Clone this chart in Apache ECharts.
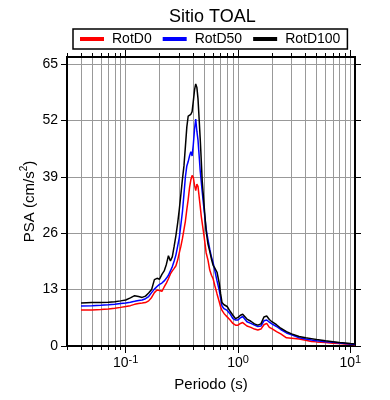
<!DOCTYPE html>
<html>
<head>
<meta charset="utf-8">
<script src="https://cdn.jsdelivr.net/npm/echarts@6/dist/echarts.min.js"></script>
<style>html,body{margin:0;padding:0;background:#fff}#chart{width:390px;height:400px}</style>
</head>
<body>
<div id="chart"></div>
<script>
// periods (s)
var periods = [0.04,0.05,0.06,0.07,0.08,0.09,
  0.10,0.11,0.12,0.13,0.14,0.15,0.16,0.17,0.18,0.19,
  0.20,0.21,0.22,0.23,0.24,0.25,0.26,0.27,0.28,0.29,
  0.30,0.31,0.32,0.33,0.34,0.35,0.36,0.37,0.38,0.39,
  0.40,0.41,0.42,0.43,0.44,0.45,0.46,0.47,0.48,
  0.50,0.52,0.54,0.56,0.58,0.60,0.62,
  0.65,0.68,0.70,0.72,0.75,0.78,0.80,
  0.85,0.90,0.95,1.0,1.05,1.1,
  1.2,1.3,1.4,1.5,1.6,1.7,1.8,1.9,2.0,
  2.2,2.4,2.7,3.0,3.5,
  4.0,4.5,5.0,
  6,7,8,9,10,11];

var rotD0 = [8.3,8.3,8.4,8.5,8.7,8.9,
  9.1,9.3,9.6,9.8,9.9,10.0,10.4,11.2,12.3,12.9,
  12.8,12.6,13.6,14.5,15.5,16.6,17.3,17.9,18.5,19.8,
  21.5,23.0,24.8,26.8,28.8,31.5,33.8,36.5,38.3,39.3,
  38.8,37.0,35.8,37.3,36.8,34.5,32.3,30.0,28.3,
  25.0,21.5,19.8,17.5,16.3,15.5,14.0,
  12.0,10.2,9.0,8.2,7.5,7.0,6.8,
  6.0,5.2,4.8,4.8,5.2,5.4,
  4.6,4.3,3.9,3.7,3.9,4.9,5.2,4.3,4.0,
  3.3,2.8,1.9,1.8,1.6,
  1.3,1.05,0.95,
  0.8,0.65,0.55,0.45,0.38,0.3];

var rotD50 = [9.2,9.3,9.4,9.5,9.6,9.8,
  9.9,10.1,10.3,10.5,10.6,10.9,11.4,12.3,13.1,13.7,
  14.2,14.5,15.0,15.6,16.3,17.3,18.3,19.6,21.0,23.0,
  25.0,28.0,31.0,35.0,39.0,41.5,42.5,43.8,44.8,43.8,
  46.5,50.0,52.3,49.5,47.5,44.0,40.5,38.0,35.5,
  31.0,27.0,24.5,22.3,20.5,19.2,17.5,
  15.0,12.8,11.0,9.2,8.6,8.5,8.2,
  7.4,6.3,6.0,6.0,6.5,6.8,
  5.6,5.2,4.8,4.5,4.6,5.8,6.0,5.5,5.1,
  4.5,3.8,3.0,2.6,1.9,
  1.6,1.4,1.2,
  1.0,0.85,0.7,0.55,0.45,0.35];

var rotD100 = [9.9,10.0,10.0,10.1,10.2,10.4,
  10.6,11.1,11.6,11.4,11.2,11.5,12.2,13.0,15.3,15.6,
  15.4,16.5,17.3,18.8,20.8,19.6,20.6,23.0,25.5,28.3,
  31.5,35.0,38.5,41.5,46.0,50.5,53.0,53.2,53.4,54.0,
  56.5,59.0,60.4,59.6,57.0,52.5,48.0,43.0,38.0,
  32.0,26.5,23.5,21.8,20.0,18.6,18.0,
  17.0,14.5,12.0,10.0,9.5,9.6,9.1,
  8.0,7.1,6.3,6.6,7.1,7.3,
  6.2,5.7,5.1,4.8,5.1,6.7,6.9,6.1,5.6,
  4.9,4.1,3.3,2.8,2.2,
  1.9,1.7,1.5,
  1.2,1.0,0.8,0.7,0.55,0.45];

var minorTicks = [0.03,0.04,0.05,0.06,0.07,0.08,0.09,
  0.1,0.2,0.3,0.4,0.5,0.6,0.7,0.8,0.9,
  1,2,3,4,5,6,7,8,9,10];
var decadeTicks = [0.1, 1, 10];
var psaTicks = [0, 13, 26, 39, 52, 65];

var font = 'Liberation Sans, Arial, sans-serif';
var gridGray = '#999';

function pairs(vals) {
  return periods.map(function (p, i) { return [p, vals[i]]; });
}

function decadeLabel(v) {
  var e = Math.round(Math.log10(v));
  return '{b|10}{s|' + e + '}';
}

function xAxisDef(pos, values, len, withLabels, withSplit) {
  return {
    type: 'log', logBase: 10, min: 0.03, max: 11, position: pos, gridIndex: 0,
    axisLine: { show: true, onZero: false, lineStyle: { color: '#000', width: 2 } },
    axisTick: { show: true, customValues: values, length: len, lineStyle: { color: '#000', width: 1 } },
    axisLabel: {
      show: withLabels, customValues: decadeTicks, margin: 8,
      formatter: decadeLabel,
      rich: {
        b: { fontFamily: font, fontSize: 14, color: '#000', lineHeight: 16, verticalAlign: 'bottom' },
        s: { fontFamily: font, fontSize: 11, color: '#000', lineHeight: 10, verticalAlign: 'top' }
      }
    },
    splitLine: { show: withSplit, lineStyle: { color: gridGray, width: 1 } },
    minorTick: { show: false }
  };
}

function yAxisDef(pos, withLabels, withSplit) {
  return {
    type: 'value', min: 0, max: 66.6, position: pos,
    axisLine: { show: true, onZero: false, lineStyle: { color: '#000', width: 2 } },
    axisTick: { show: true, customValues: psaTicks, length: 6, lineStyle: { color: '#000', width: 1 } },
    axisLabel: { show: withLabels, customValues: psaTicks, margin: 9, color: '#000', fontFamily: font, fontSize: 14 },
    splitLine: { show: withSplit, lineStyle: { color: gridGray, width: 1 } }
  };
}

var chart = echarts.init(document.getElementById('chart'), null, { renderer: 'canvas' });
var xMain = xAxisDef('bottom', minorTicks, 4, true, true);
xMain.name = 'Periodo (s)';
xMain.nameLocation = 'middle';
xMain.nameGap = 31;
xMain.nameTextStyle = { color: '#000', fontFamily: font, fontSize: 15 };
var yMain = yAxisDef('left', true, true);
yMain.name = '{b|PSA (cm/s}{s|2}{b|)}';
yMain.nameLocation = 'middle';
yMain.nameGap = 30;
yMain.nameMoveOverlap = false;
yMain.nameTextStyle = {
  rich: {
    b: { fontFamily: font, fontSize: 15, color: '#000', lineHeight: 18, verticalAlign: 'bottom' },
    s: { fontFamily: font, fontSize: 10, color: '#000', lineHeight: 10, verticalAlign: 'top' }
  }
};

chart.setOption({
  animation: false,
  backgroundColor: '#fff',
  title: {
    text: 'Sitio TOAL', left: 164, top: 3,
    textStyle: { fontFamily: font, fontSize: 18, fontWeight: 'normal', color: '#000' }
  },
  legend: {
    left: 73, top: 29, padding: [3, 7], itemGap: 11,
    borderColor: '#000', borderWidth: 1.5,
    icon: 'rect', itemWidth: 24, itemHeight: 4,
    textStyle: { fontFamily: font, fontSize: 14, color: '#000', padding: [0, 0, 0, 3] },
    data: ['RotD0', 'RotD50', 'RotD100']
  },
  grid: { left: 67, right: 35, top: 57, bottom: 54, containLabel: false },
  xAxis: [
    xMain,
    xAxisDef('bottom', decadeTicks, 7, false, false),
    xAxisDef('top', minorTicks, 4, false, false),
    xAxisDef('top', decadeTicks, 7, false, false)
  ],
  yAxis: [
    yMain,
    yAxisDef('right', false, false)
  ],
  series: [
    { name: 'RotD0', type: 'line', data: pairs(rotD0), symbol: 'none', color: '#ff0000', lineStyle: { width: 1.5, color: '#ff0000' } },
    { name: 'RotD50', type: 'line', data: pairs(rotD50), symbol: 'none', color: '#0000ff', lineStyle: { width: 1.5, color: '#0000ff' } },
    { name: 'RotD100', type: 'line', data: pairs(rotD100), symbol: 'none', color: '#000', lineStyle: { width: 1.5, color: '#000' } }
  ]
});
</script>
</body>
</html>
